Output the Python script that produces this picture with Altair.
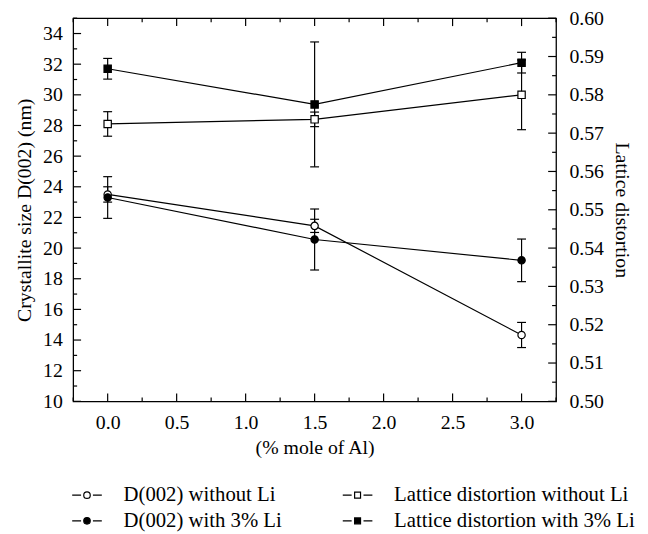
import altair as alt
import pandas as pd

# ---------------- data ----------------
x_vals = [0.0, 1.5, 3.0]

d_without = [23.5, 21.45, 14.33]
d_without_err = [0.5, 0.43, 0.82]
d_with = [23.3, 20.56, 19.2]
d_with_err = [1.36, 1.99, 1.39]

lat_without = [0.5724, 0.5736, 0.5800]
lat_without_err = [0.0032, 0.0019, 0.0091]
lat_with = [0.5868, 0.5775, 0.5884]
lat_with_err = [0.0027, 0.0163, 0.0027]

series_d = ["D(002) without Li", "D(002) with 3% Li"]
series_l = ["Lattice distortion without Li", "Lattice distortion with 3% Li"]

x_major = [0.0, 0.5, 1.0, 1.5, 2.0, 2.5, 3.0]
x_minor = [-0.25, 0.25, 0.75, 1.25, 1.75, 2.25, 2.75, 3.25]
left_major = [10, 12, 14, 16, 18, 20, 22, 24, 26, 28, 30, 32, 34]
left_minor = [11, 13, 15, 17, 19, 21, 23, 25, 27, 29, 31, 33, 35]
right_major = [0.50, 0.51, 0.52, 0.53, 0.54, 0.55, 0.56, 0.57, 0.58, 0.59, 0.60]
right_minor = [0.505, 0.515, 0.525, 0.535, 0.545, 0.555, 0.565, 0.575, 0.585, 0.595]

W, H = 489, 388
FONT = "Liberation Serif"
FS = 20
LFS = 21


def frame(vals, errs, name):
    return pd.DataFrame({
        "x": x_vals,
        "val": vals,
        "lo": [v - e for v, e in zip(vals, errs)],
        "hi": [v + e for v, e in zip(vals, errs)],
        "series": name,
    })


def caps(df):
    a = df[["x", "lo"]].rename(columns={"lo": "val"})
    b = df[["x", "hi"]].rename(columns={"hi": "val"})
    return pd.concat([a, b], ignore_index=True)


dD = pd.concat([frame(d_without, d_without_err, series_d[0]),
                frame(d_with, d_with_err, series_d[1])], ignore_index=True)
dL = pd.concat([frame(lat_without, lat_without_err, series_l[0]),
                frame(lat_with, lat_with_err, series_l[1])], ignore_index=True)

x_axis = alt.Axis(values=x_major, format=".1f", ticks=False, domain=False,
                  labelPadding=11, title="(% mole of Al)", titlePadding=6,
                  labelFont=FONT, titleFont=FONT)
x_scale = alt.Scale(domain=[-0.25, 3.25], nice=False, zero=False)


def xe():
    return alt.X("x:Q", scale=x_scale, axis=x_axis)


left_axis = alt.Axis(values=left_major, ticks=False, domain=False, labelPadding=11,
                     title="Crystallite size D(002) (nm)", titlePadding=8,
                     labelFont=FONT, titleFont=FONT)
left_scale = alt.Scale(domain=[10, 35], nice=False, zero=False)
right_axis = alt.Axis(orient="right", values=right_major, format=".2f", ticks=False,
                      domain=False, labelPadding=13, title="Lattice distortion",
                      titlePadding=8, labelFont=FONT, titleFont=FONT)
right_scale = alt.Scale(domain=[0.50, 0.60], nice=False, zero=False)


def ly(field):
    return alt.Y(field + ":Q", scale=left_scale, axis=left_axis)


def ry(field):
    return alt.Y(field + ":Q", scale=right_scale, axis=right_axis)


circle_path = ("M-1,0L-0.4,0M0.4,0L1,0"
               "M0.22,0A0.22,0.22,0,1,1,-0.22,0A0.22,0.22,0,1,1,0.22,0Z")
square_path = ("M-1,0L-0.4,0M0.4,0L1,0"
               "M-0.2,-0.2L0.2,-0.2L0.2,0.2L-0.2,0.2Z")


def legend(path, lx, lyy):
    return alt.Legend(title=None, orient="none", legendX=lx, legendY=lyy,
                      direction="vertical", symbolType=path, symbolSize=900,
                      symbolStrokeColor="black", symbolStrokeWidth=1.2,
                      labelFont=FONT, labelFontSize=LFS, labelColor="black",
                      labelOffset=21, rowPadding=0, labelLimit=400)


def group(df, yenc, series, shape, path, lx, lyy, ticks_major, ticks_minor, side):
    base_line = alt.Chart(df).mark_line(color="black", strokeWidth=1.2).encode(
        x=xe(), y=yenc("val"), detail="series:N")
    bars = alt.Chart(df).mark_rule(color="black", strokeWidth=1.2).encode(
        x=xe(), y=yenc("lo"), y2="hi")
    capm = alt.Chart(caps(df)).mark_tick(orient="horizontal", size=9, thickness=1.2,
                                         color="black", opacity=1).encode(
        x=xe(), y=yenc("val"))
    pts = alt.Chart(df).mark_point(shape=shape, filled=True, size=55, stroke="black",
                                   strokeWidth=1.2, opacity=1).encode(
        x=xe(), y=yenc("val"),
        fill=alt.Fill("series:N", sort=series,
                      scale=alt.Scale(domain=series, range=["white", "black"]),
                      legend=legend(path, lx, lyy)))
    if side == "left":
        x0, x1M, x1m = 0, 8, 4
    else:
        x0, x1M, x1m = W, W - 8, W - 4
    tM = alt.Chart(pd.DataFrame({"val": ticks_major})).mark_rule(
        color="black", strokeWidth=1.2).encode(
        y=yenc("val"), x=alt.value(x0), x2=alt.value(x1M))
    tm = alt.Chart(pd.DataFrame({"val": ticks_minor})).mark_rule(
        color="black", strokeWidth=1.2).encode(
        y=yenc("val"), x=alt.value(x0), x2=alt.value(x1m))
    return [base_line, bars, capm, pts, tM, tm]


left_layers = group(dD, ly, series_d, "circle", circle_path, -2, 467,
                    left_major, left_minor, "left")
right_layers = group(dL, ry, series_l, "square", square_path, 272, 467,
                     right_major, right_minor, "right")

# x ticks (top and bottom, pointing inward)
xt = []
for vals, ln in ((x_major, 8), (x_minor, 4)):
    dfx = pd.DataFrame({"x": vals})
    xt.append(alt.Chart(dfx).mark_rule(color="black", strokeWidth=1.2).encode(
        x=xe(), y=alt.value(0), y2=alt.value(ln)))
    xt.append(alt.Chart(dfx).mark_rule(color="black", strokeWidth=1.2).encode(
        x=xe(), y=alt.value(H - ln), y2=alt.value(H)))

left_group = alt.layer(*(left_layers + xt))
right_group = alt.layer(*right_layers)

chart = alt.layer(left_group, right_group).resolve_scale(
    y="independent", fill="independent"
).properties(
    width=W, height=H,
    autosize=alt.AutoSizeParams(type="none"),
    padding={"left": 66, "top": 7, "right": 85, "bottom": 131},
).configure(font=FONT).configure_view(
    stroke="black", strokeWidth=1.3
).configure_axis(
    labelFont=FONT, titleFont=FONT, labelFontSize=FS, titleFontSize=FS,
    titleFontWeight="normal", labelColor="black", titleColor="black", grid=False
)

chart.save("out.html", embed_options={"renderer": "svg", "actions": False})
